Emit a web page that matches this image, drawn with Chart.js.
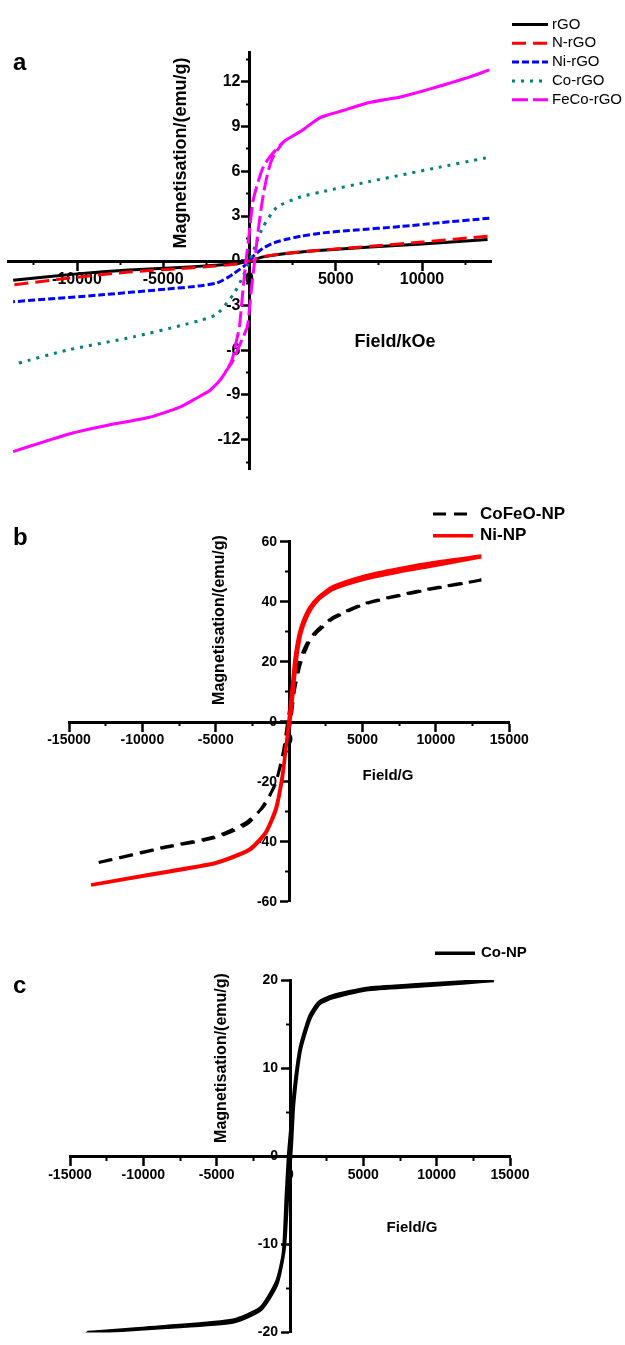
<!DOCTYPE html>
<html>
<head>
<meta charset="utf-8">
<script src="https://cdn.jsdelivr.net/npm/chart.js@4.4.1/dist/chart.umd.min.js"></script>
<style>
  html, body { margin: 0; padding: 0; background: #fff; }
  #wrap { position: relative; width: 625px; height: 1345px; }
  canvas { position: absolute; left: 0; }
</style>
</head>
<body>
<div id="wrap">
  <canvas id="chartA" width="625" height="490" style="top:0px"></canvas>
  <canvas id="chartB" width="625" height="430" style="top:490px"></canvas>
  <canvas id="chartC" width="625" height="425" style="top:920px"></canvas>
</div>
<script>
// ---------- panel a : rGO based samples ----------
const aXMajor = [-10000, -5000, 0, 5000, 10000];
const aXMinor = [-12500, -7500, -2500, 2500, 7500, 12500];
const aYMajor = [-12, -9, -6, -3, 0, 3, 6, 9, 12];
const aYMinor = [-13.5, -10.5, -7.5, -4.5, -1.5, 1.5, 4.5, 7.5, 10.5, 13.5];

const rgoH  = [13800, 10000, 7000, 4000, 2000, 800, 0, -800, -2000, -4000, -7000, -10000, -13700];
const rgoM  = [1.42, 1.12, 0.92, 0.68, 0.47, 0.26, 0, -0.2, -0.3, -0.45, -0.62, -0.88, -1.3];
const nrgoM = [1.65, 1.25, 0.97, 0.7, 0.48, 0.27, 0, -0.22, -0.36, -0.52, -0.76, -1.1, -1.62];

const nirgoH = [13900, 11000, 8800, 6000, 4100, 3000, 2000, 1300, 800, 300, 0, -300, -900, -1300, -1900, -3000, -4800, -8700, -13700];
const nirgoM = [2.85, 2.55, 2.3, 2.05, 1.85, 1.65, 1.4, 1.15, 0.85, 0.4, 0.05, -0.35, -0.85, -1.15, -1.5, -1.7, -1.9, -2.3, -2.75];

const corgoH = [13700, 10700, 6900, 4100, 3000, 1600, 800, 400, 0, -400, -900, -1900, -2850, -4000, -6700, -10600, -13500];
const corgoM = [6.9, 6.2, 5.3, 4.6, 4.3, 3.6, 2.3, 1.2, 0, -1.1, -2.2, -3.6, -4.0, -4.35, -5.1, -6.0, -6.9];

// FeCo-rGO loop: field going down, then back up
const fecoH = [13900, 12700, 10700, 8800, 6900, 5500, 4100, 3000, 2000, 1200, 800, 500, 200, 0, -200, -400, -580, -800, -1000, -1300, -1700, -2300, -2900, -4000, -5800, -8100, -10400, -13700,
               -10400, -8100, -5800, -4000, -2900, -2300, -1700, -1300, -1000, -700, -400, -120, 100, 300, 500, 740, 1000, 1300, 2000, 3000, 4100, 5500, 6900, 8800, 10700, 12700, 13900];
const fecoM = [12.8, 12.3, 11.6, 11.0, 10.6, 10.1, 9.6, 8.7, 8.0, 7.0, 6.3, 5.3, 4.0, 2.0, 0, -2.2, -4.4, -5.6, -6.6, -7.3, -8.0, -8.7, -9.1, -9.8, -10.5, -11.0, -11.6, -12.8,
               -11.6, -11.0, -10.5, -9.8, -9.1, -8.7, -8.0, -7.3, -6.8, -6.0, -5.2, -4.4, -2.0, 0, 2.0, 4.0, 5.6, 6.8, 8.0, 8.7, 9.6, 10.1, 10.6, 11.0, 11.6, 12.3, 12.8];

// ---------- panel b : nanoparticles ----------
const bXMajor = [-15000, -10000, -5000, 0, 5000, 10000, 15000];
const bXMinor = [-12500, -7500, -2500, 2500, 7500, 12500];
const bYMajor = [-60, -40, -20, 0, 20, 40, 60];
const bYMinor = [-50, -30, -10, 10, 30, 50];

const cofeoH = [13100, 9800, 7500, 5200, 3000, 1800, 1200, 600, 250, -100, -400, -900, -1700, -2900, -5000, -8400, -13200,
                -8400, -5000, -2900, -1900, -1000, -450, -100, 100, 350, 750, 1350, 1900, 3000, 5200, 7500, 9800, 13100];
const cofeoM = [47.2, 44.5, 42.2, 39.5, 34.8, 30.0, 26.0, 19.0, 11.0, 0, -10.0, -20.0, -28.0, -33.5, -38.3, -41.7, -47.2,
                -41.9, -38.6, -34.2, -29.0, -21.5, -12.0, -4.0, 0, 10.0, 19.0, 26.5, 29.8, 34.4, 39.3, 42.0, 44.3, 47.2];

const ninpH = [13100, 9800, 7500, 5200, 3000, 2000, 1400, 1000, 700, 400, 200, 0, -200, -450, -900, -1600, -2700, -5000, -9500, -13500,
               -9500, -5000, -2700, -1600, -900, -450, -150, 50, 250, 450, 750, 1050, 1450, 2050, 3000, 5200, 7500, 9800, 13100];
const ninpM = [55.2, 53.0, 51.0, 48.6, 45.0, 41.5, 38.0, 34.0, 29.5, 21.0, 11.0, 1.0, -8.0, -18.3, -29.4, -37.2, -42.8, -47.2, -51.1, -54.4,
               -50.9, -47.0, -42.5, -36.8, -28.8, -17.5, -6.0, 0, 9.0, 19.0, 28.5, 33.2, 37.3, 41.0, 44.2, 47.6, 50.0, 52.0, 55.0];

// ---------- panel c : Co nanoparticles ----------
const cXMajor = [-15000, -10000, -5000, 0, 5000, 10000, 15000];
const cXMinor = [-12500, -7500, -2500, 2500, 7500, 12500];
const cYMajor = [-20, -10, 0, 10, 20];
const cYMinor = [-15, -5, 5, 15];

const conpH = [13900, 12000, 8600, 5200, 2900, 2000, 1350, 700, 300, 0, -100, -250, -450, -900, -2000, -3900, -8400, -13800,
               -8400, -3900, -2000, -900, -400, -150, 0, 100, 250, 700, 1350, 2000, 2900, 5200, 8600, 12000, 13900];
const conpM = [19.95, 19.8, 19.45, 19.05, 18.2, 17.5, 15.9, 12.3, 7.5, 2.0, 0, -4.5, -11.0, -14.2, -17.2, -18.6, -19.3, -20.0,
               -19.4, -18.8, -17.4, -14.5, -10.5, -4.0, -1.0, 1.5, 6.0, 12.0, 15.6, 17.3, 18.0, 18.9, 19.3, 19.7, 19.95];

const FAM = '"Liberation Sans", Arial, sans-serif';

function pts(hs, ms) {
  return hs.map((h, i) => ({ x: h, y: ms[i] }));
}

// legend + free texts drawn on top of each chart
const keyPlugin = {
  id: 'keyBox',
  afterDraw(chart, args, o) {
    const ctx = chart.ctx;
    ctx.save();
    chart.data.datasets.forEach((ds, i) => {
      const y = o.y + i * o.rowH;
      ctx.beginPath();
      ctx.setLineDash(ds.borderDash || []);
      ctx.strokeStyle = ds.borderColor;
      ctx.lineWidth = ds.borderWidth;
      ctx.moveTo(o.x, y);
      ctx.lineTo(o.x + o.len, y);
      ctx.stroke();
      ctx.setLineDash([]);
      ctx.fillStyle = '#000';
      ctx.font = o.font;
      ctx.textAlign = 'left';
      ctx.textBaseline = 'middle';
      ctx.fillText(ds.label, o.x + o.len + o.gap, y);
    });
    o.texts.forEach(t => {
      ctx.save();
      ctx.fillStyle = '#000';
      ctx.font = t.font;
      ctx.translate(t.x, t.y);
      if (t.rot) {
        ctx.rotate(-Math.PI / 2);
        ctx.textAlign = 'center';
        ctx.textBaseline = 'middle';
      } else {
        ctx.textAlign = t.align;
        ctx.textBaseline = 'alphabetic';
      }
      ctx.fillText(t.text, 0, 0);
      ctx.restore();
    });
    ctx.restore();
  }
};

// axes cross at the origin, which is the middle of every panel
function axes(xr, yr, xMaj, xMin, yMaj, yMin, tickSize, tk) {
  const tickFont = { family: FAM, size: tickSize, weight: 'bold' };
  const setTicks = arr => s => { s.ticks = arr.map(v => ({ value: v })); };
  const plain = v => String(v);
  return {
    x: { type: 'linear', min: xr[0], max: xr[1], position: 'center',
         border: { color: '#000', width: 3 },
         grid: { drawOnChartArea: false, color: '#000', tickLength: 8, tickWidth: 2.5 },
         ticks: { color: '#000', font: tickFont, padding: tk.xPad, maxRotation: 0, autoSkip: false, callback: plain },
         afterBuildTicks: setTicks(xMaj) },
    xm: { type: 'linear', axis: 'x', min: xr[0], max: xr[1], position: 'center',
          border: { display: false },
          grid: { drawOnChartArea: false, color: '#000', tickLength: 4, tickWidth: 2 },
          ticks: { display: false },
          afterBuildTicks: setTicks(xMin) },
    y: { type: 'linear', min: yr[0], max: yr[1], position: 'center',
         border: { color: '#000', width: 3 },
         grid: { drawOnChartArea: false, color: '#000', tickLength: tk.yLen, tickWidth: 2.5 },
         ticks: { color: '#000', font: tickFont, padding: tk.yPad, autoSkip: false, callback: plain },
         afterBuildTicks: setTicks(yMaj) },
    ym: { type: 'linear', axis: 'y', min: yr[0], max: yr[1], position: 'center',
          border: { display: false },
          grid: { drawOnChartArea: false, color: '#000', tickLength: 4, tickWidth: 2 },
          ticks: { display: false },
          afterBuildTicks: setTicks(yMin) }
  };
}

function loopSet(label, hs, ms, color, width, dash, order) {
  return { label: label, data: pts(hs, ms), borderColor: color, borderWidth: width,
           borderDash: dash, showLine: true, pointRadius: 0, tension: 0.2, order: order };
}

function makeChart(id, datasets, padding, scales, key) {
  return new Chart(document.getElementById(id), {
    type: 'scatter',
    data: { datasets: datasets },
    options: {
      responsive: false,
      animation: false,
      layout: { padding: padding },
      scales: scales,
      plugins: { legend: { display: false }, tooltip: { enabled: false }, keyBox: key }
    },
    plugins: [keyPlugin]
  });
}

makeChart('chartA', [
    loopSet('rGO', rgoH, rgoM, '#000000', 3, [], 5),
    loopSet('N-rGO', rgoH, nrgoM, '#ff0000', 3, [14, 7], 4),
    loopSet('Ni-rGO', nirgoH, nirgoM, '#0000ff', 3, [7, 3], 3),
    loopSet('Co-rGO', corgoH, corgoM, '#008080', 3, [3, 6], 2),
    loopSet('FeCo-rGO', fecoH, fecoM, '#ff00ff', 3, [16, 5], 1)
  ],
  { left: 8, right: 134, top: 52, bottom: 20.5 },
  axes([-14000, 14000], [-14, 14], aXMajor, aXMinor, aYMajor, aYMinor, 16, { xPad: 1, yLen: 7, yPad: 2 }),
  { x: 512, y: 24.5, rowH: 18.8, len: 36, gap: 4, font: '15px ' + FAM,
    texts: [
      { text: 'a', x: 13, y: 70, font: 'bold 24px ' + FAM, align: 'left' },
      { text: 'Magnetisation/(emu/g)', x: 181, y: 153, font: 'bold 18px ' + FAM, rot: true },
      { text: 'Field/kOe', x: 395, y: 347, font: 'bold 18px ' + FAM, align: 'center' }
    ] });

makeChart('chartB', [
    loopSet('CoFeO-NP', cofeoH, cofeoM, '#000000', 3, [13, 8], 2),
    loopSet('Ni-NP', ninpH, ninpM, '#ff0000', 3.5, [], 1)
  ],
  { left: 69, right: 115.7, top: 51.7, bottom: 18.3 },
  axes([-15000, 15000], [-60, 60], bXMajor, bXMinor, bYMajor, bYMinor, 14, { xPad: 2.5, yLen: 8, yPad: 4 }),
  { x: 433, y: 24, rowH: 21.7, len: 40, gap: 7, font: 'bold 17px ' + FAM,
    texts: [
      { text: 'b', x: 13, y: 55, font: 'bold 24px ' + FAM, align: 'left' },
      { text: 'Magnetisation/(emu/g)', x: 220, y: 130, font: 'bold 16px ' + FAM, rot: true },
      { text: 'Field/G', x: 388, y: 290, font: 'bold 15px ' + FAM, align: 'center' }
    ] });

makeChart('chartC', [
    loopSet('Co-NP', conpH, conpM, '#000000', 3.5, [], 1)
  ],
  { left: 70, right: 115, top: 60, bottom: 4 },
  axes([-15000, 15000], [-20, 20], cXMajor, cXMinor, cYMajor, cYMinor, 14, { xPad: 2.5, yLen: 8, yPad: 4 }),
  { x: 435, y: 33.3, rowH: 20, len: 40, gap: 6, font: 'bold 15px ' + FAM,
    texts: [
      { text: 'c', x: 13, y: 73, font: 'bold 24px ' + FAM, align: 'left' },
      { text: 'Magnetisation/(emu/g)', x: 222, y: 138, font: 'bold 16px ' + FAM, rot: true },
      { text: 'Field/G', x: 412, y: 312, font: 'bold 15px ' + FAM, align: 'center' }
    ] });
</script>
</body>
</html>
